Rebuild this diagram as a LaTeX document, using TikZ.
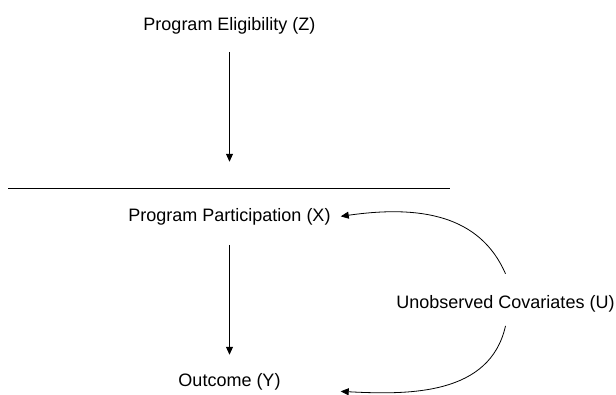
\documentclass[tikz,border=0pt]{standalone}
\usepackage{fontspec}
\setmainfont{Liberation Sans}
\usetikzlibrary{arrows.meta}
\begin{document}
\begin{tikzpicture}[x=1pt,y=-1pt,
  lbl/.style={inner sep=0pt, anchor=base, font=\fontsize{18}{21.6}\selectfont},
  arr/.style={line width=0.8pt, -{Triangle[length=8pt,width=7pt]}},
  rule/.style={line width=0.8pt}]
\useasboundingbox (0,0) rectangle (616,394);
\node[lbl] (Z) at (229.5,30) {Program Eligibility (Z)};
\node[lbl] (X) at (229.5,221) {Program Participation (X)};
\node[lbl] (Y) at (229.5,386) {Outcome (Y)};
\node[lbl] (U) at (505.5,308) {Unobserved Covariates (U)};
\draw[rule] (8,188) -- (450,188);
\draw[arr, shorten <=18pt, shorten >=46pt] (Z.south) -- (X.north);
\draw[arr, shorten <=20pt, shorten >=18pt] (X.south) -- (Y.north);
\coordinate (u1) at ([yshift=21pt]U.north);
\coordinate (u2) at ([yshift=-14pt]U.south);
\coordinate (x1) at ([xshift=10pt]X.east);
\coordinate (y1) at ([xshift=60pt,yshift=-10pt]Y.east);
\draw[arr] (u1) .. controls (480,215) and (420,205) .. (x1);
\draw[arr] (u2) .. controls (490,395) and (410,395) .. (y1);
\end{tikzpicture}
\end{document}
